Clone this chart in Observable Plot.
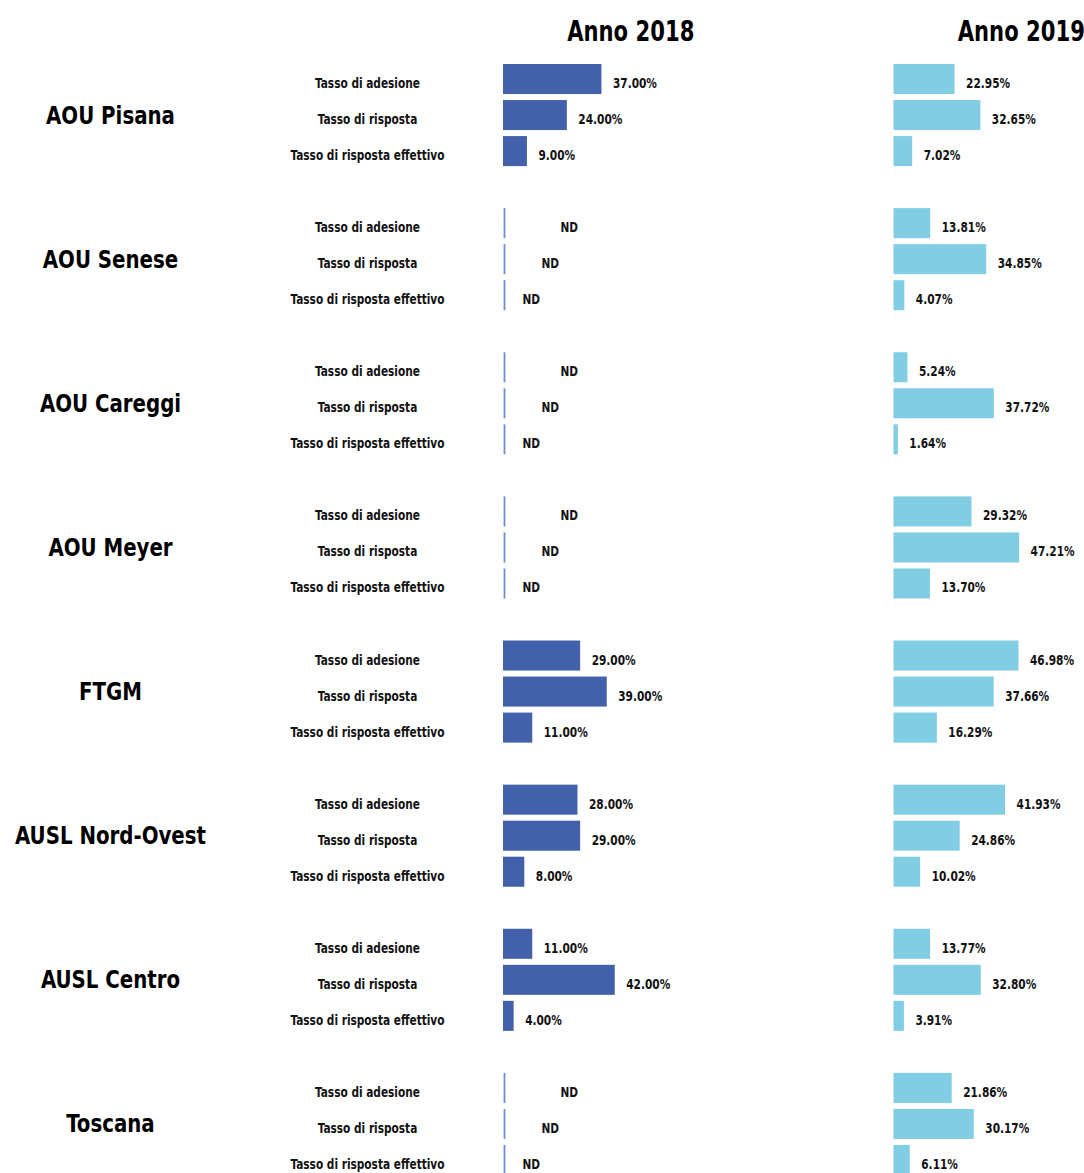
<!DOCTYPE html>
<html>
<head>
<meta charset="utf-8">
<script src="https://cdn.jsdelivr.net/npm/d3@7"></script>
<script src="https://cdn.jsdelivr.net/npm/@observablehq/plot@0.6"></script>
<style>
  html, body { margin: 0; padding: 0; background: #fff; overflow: hidden; }
  #chart svg { display: block; }
</style>
</head>
<body>
<div id="chart"></div>
<script>
const groups = ["AOU Pisana", "AOU Senese", "AOU Careggi", "AOU Meyer", "FTGM", "AUSL Nord-Ovest", "AUSL Centro", "Toscana"];
const metrics = ["Tasso di adesione", "Tasso di risposta", "Tasso di risposta effettivo"];
const years = [2018, 2019];
// null = ND (non disponibile)
const values2018 = [
  [37.00, 24.00, 9.00],
  [null, null, null],
  [null, null, null],
  [null, null, null],
  [29.00, 39.00, 11.00],
  [28.00, 29.00, 8.00],
  [11.00, 42.00, 4.00],
  [null, null, null]
];
const values2019 = [
  [22.95, 32.65, 7.02],
  [13.81, 34.85, 4.07],
  [5.24, 37.72, 1.64],
  [29.32, 47.21, 13.70],
  [46.98, 37.66, 16.29],
  [41.93, 24.86, 10.02],
  [13.77, 32.80, 3.91],
  [21.86, 30.17, 6.11]
];

const rows = [];
groups.forEach((g, gi) => {
  metrics.forEach((m, mi) => {
    rows.push({group: g, metric: m, year: 2018, value: values2018[gi][mi]});
    rows.push({group: g, metric: m, year: 2019, value: values2019[gi][mi]});
  });
});
const present = rows.filter(d => d.value != null);
const missing = rows.filter(d => d.value == null);

const FONT = "'DejaVu Sans Condensed', 'DejaVu Sans', sans-serif";
const ndDx = [57, 38, 19];
// horizontal condensing per font size, to mimic the narrow typeface of the original
const condense = {"14": 0.84, "25": 0.88, "28": 0.84};

const marks = [
  Plot.axisFx({anchor: "top", tickSize: 0, tickPadding: 21, fontSize: 28, fontWeight: "bold",
    dx: 32, tickFormat: d => `Anno ${d}`, label: null, fill: "#000"}),
  Plot.barX(present, {x: "value", y: "metric", fy: "group", fx: "year", fill: "year"}),
  Plot.tickX(missing, {x: 0, y: "metric", fy: "group", fx: "year", stroke: "#6f8dd0", strokeWidth: 1.8, dx: 1}),
  Plot.text(present, {x: "value", y: "metric", fy: "group", fx: "year",
    text: d => d.value.toFixed(2) + "%", textAnchor: "start", dx: 11, dy: 4,
    fontSize: 14, fontWeight: "bold", fill: "#111"}),
  ...metrics.map((m, mi) => Plot.text(missing.filter(d => d.metric === m), {
    x: 0, y: "metric", fy: "group", fx: "year", text: () => "ND",
    textAnchor: "start", dx: ndDx[mi], dy: 4, fontSize: 14, fontWeight: "bold", fill: "#111"})),
  Plot.text(rows.filter(d => d.year === 2018), {y: "metric", fy: "group", fx: "year",
    text: "metric", frameAnchor: "left", textAnchor: "middle", dx: -136, dy: 4,
    fontSize: 14, fontWeight: "bold", fill: "#111"}),
  Plot.text(groups, {fy: d => d, fx: () => 2018, text: d => d, frameAnchor: "left",
    textAnchor: "middle", dx: -393, fontSize: 25, fontWeight: "bold", fill: "#000"})
];

const chart = Plot.plot({
  width: 1084,
  height: 1178,
  marginTop: 61,
  marginBottom: 0,
  marginLeft: 503,
  marginRight: 0,
  style: {fontFamily: FONT, background: "#fff", overflow: "visible"},
  x: {domain: [0, 71.6], axis: null},
  y: {domain: metrics, axis: null, paddingInner: 1/6, paddingOuter: 1/12, round: false},
  fx: {domain: years, axis: null, paddingInner: 0.5122, paddingOuter: 0, round: false},
  fy: {domain: groups, axis: null, paddingInner: 0.25, paddingOuter: 0, round: false},
  color: {type: "ordinal", domain: years, range: ["#4361ab", "#80cde4"]},
  marks
});

// condense text horizontally around its anchor point (keeps Plot's own positioning)
chart.querySelectorAll("text").forEach(t => {
  const holder = t.closest("[font-size]");
  const fs = holder ? String(parseFloat(holder.getAttribute("font-size"))) : null;
  const s = condense[fs];
  if (!s) return;
  const tr = t.getAttribute("transform") || "";
  t.setAttribute("transform", `${tr} scale(${s},1)`);
});

document.getElementById("chart").appendChild(chart);
</script>
</body>
</html>
